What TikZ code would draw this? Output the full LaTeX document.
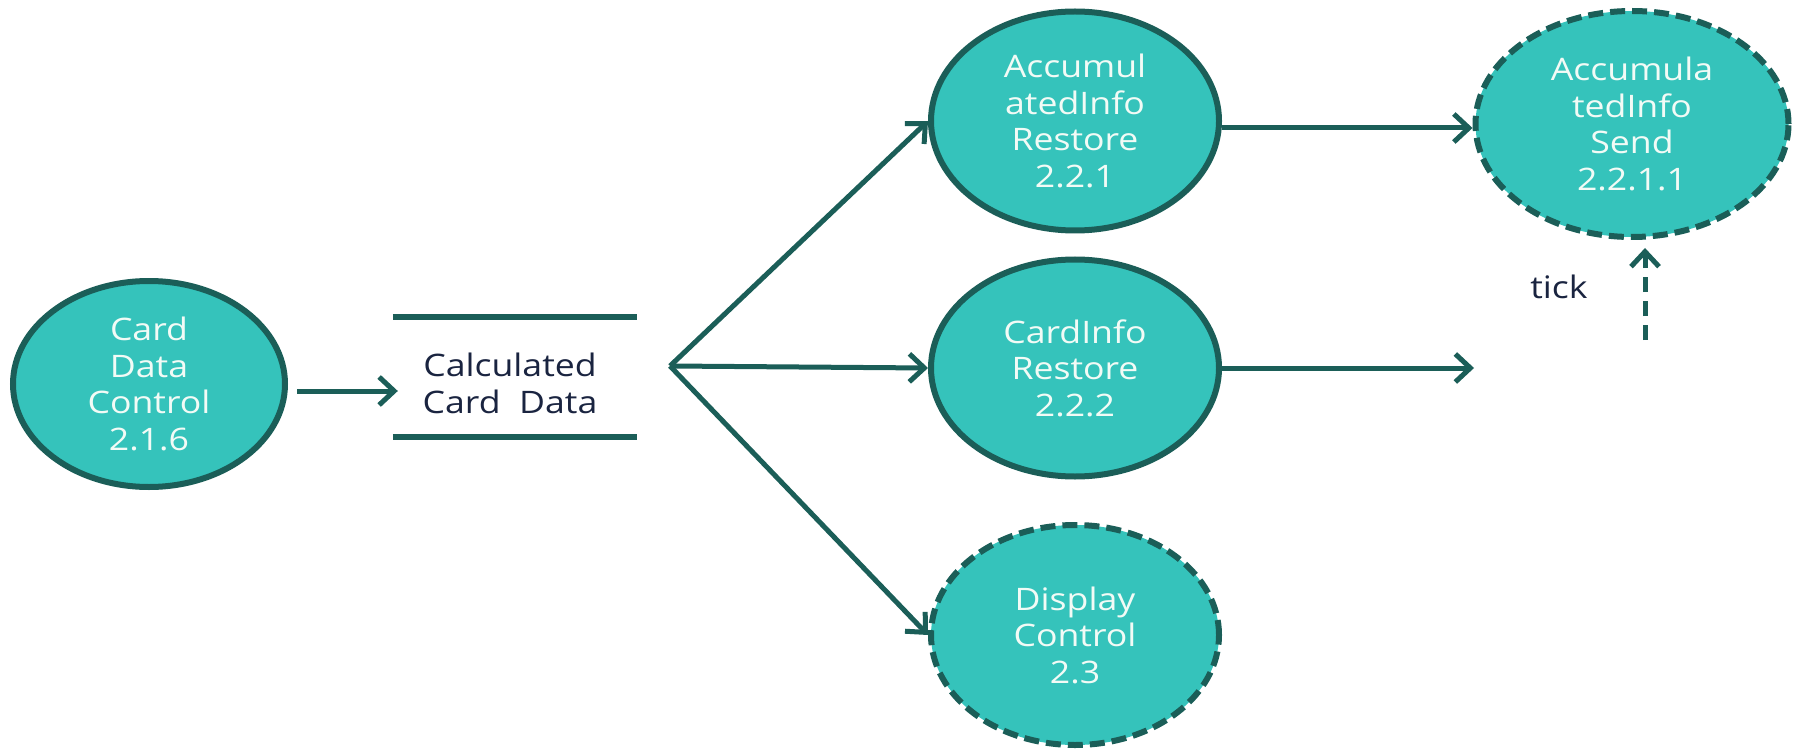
\documentclass[tikz,border=0pt]{standalone}
\usepackage{fontspec}
\setmainfont[FakeStretch=1.15]{Open Sans}
\usetikzlibrary{shapes.geometric,arrows.meta}
\definecolor{tealfill}{HTML}{35C3BB}
\definecolor{tealdark}{HTML}{1B5E58}
\definecolor{softwhite}{HTML}{F2FBF6}
\definecolor{storetext}{HTML}{1A2440}
\tikzset{
  proc/.style={ellipse, draw=tealdark, fill=tealfill, line width=6pt, inner sep=0pt,
    text=softwhite, align=center, font=\fontsize{31}{36.5}\selectfont},
  procdash/.style={proc, dash pattern=on 15pt off 7pt},
  arr/.style={draw=tealdark, line width=5pt, -{Straight Barb[length=15pt,width=28pt]}},
  storeline/.style={draw=tealdark, line width=5.5pt},
}
\begin{document}
\begin{tikzpicture}[x=1pt,y=-1pt]
\useasboundingbox (0,0) rectangle (1803,751);
% processes
\node[proc, minimum width=272pt, minimum height=206pt] (cdc) at (149,384) {Card\\Data\\Control\\2.1.6};
\node[proc, minimum width=288pt, minimum height=219pt] (r1) at (1075,121) {Accumul\\atedInfo\\Restore\\2.2.1};
\node[proc, minimum width=288pt, minimum height=217pt] (r2) at (1075,368) {CardInfo\\Restore\\2.2.2};
\node[procdash, minimum width=288pt, minimum height=220pt] (disp) at (1075,635) {Display\\Control\\2.3};
\node[procdash, minimum width=313pt, minimum height=226pt] (send) at (1632,124) {Accumula\\tedInfo\\Send\\2.2.1.1};
% data store
\node[minimum width=244pt, minimum height=120pt, inner sep=0pt] (store) at (515,377) {};
\node[text=storetext, align=center, font=\fontsize{31}{37}\selectfont] (storetxt) at (510,383) {Calculated\\Card~~Data};
\draw[storeline] (store.north west) -- (store.north east);
\draw[storeline] (store.south west) -- (store.south east);
% branch
\coordinate (br) at (670,366);
\coordinate (out2) at (1474,368);
\coordinate (tk) at (1645,340);
% connectors
\draw[arr] ([xshift=9pt,yshift=-7pt]cdc.east) -- ([xshift=5pt,yshift=-14pt]store.west);
\draw[arr] (br) -- (r1.west);
\draw[arr] (br) -- (r2.west);
\draw[arr] (br) -- (disp.west);
\draw[arr] ([yshift=-7pt]r1.east) -- ([yshift=-4pt]send.west);
\draw[arr] (r2.east) -- (out2);
\draw[arr, dash pattern=on 15pt off 9pt, shorten >=8pt] (tk) -- (tk |- send.south);
\node[text=storetext, font=\fontsize{31}{34}\selectfont] (ticklbl) at (1559,287) {tick};
\end{tikzpicture}
\end{document}
